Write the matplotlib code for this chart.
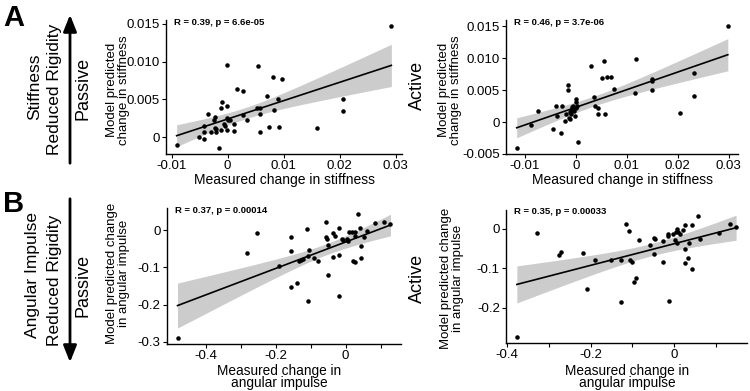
import numpy as np
import matplotlib
matplotlib.use('Agg')
import matplotlib.pyplot as plt
from matplotlib.patches import FancyArrowPatch

plt.rcParams['font.family'] = ['Liberation Sans', 'DejaVu Sans']

# Stiffness, passive
stiff_pas_meas = [-0.0091, -0.0051, -0.0042, -0.0043, -0.0042, -0.0035, -0.0030, -0.0024, -0.0023, -0.0023,
                  -0.0021, -0.0020, -0.0015, -0.0012, -0.0011, -0.0010, -0.0007, -0.0005, -0.0002, -0.0002,
                  -0.0002, -0.0001, 0.0001, 0.0004, 0.0011, 0.0011, 0.0017, 0.0027, 0.0028, 0.0035,
                  0.0053, 0.0055, 0.0057, 0.0057, 0.0058, 0.0070, 0.0074, 0.0080, 0.0083, 0.0089,
                  0.0092, 0.0097, 0.0160, 0.0206, 0.0206, 0.0292]
stiff_pas_pred = [-0.0011, 0.0000, -0.0002, 0.0006, 0.0014, 0.0031, 0.0007, 0.0023, 0.0026, 0.0012,
                  0.0007, 0.0010, -0.0015, 0.0039, 0.0009, 0.0047, 0.0017, 0.0014, 0.0095, 0.0041,
                  0.0025, 0.0009, 0.0023, 0.0022, 0.0017, 0.0008, 0.0064, 0.0061, 0.0029, 0.0023,
                  0.0039, 0.0094, 0.0039, 0.0030, 0.0007, 0.0054, 0.0013, 0.0080, 0.0036, 0.0050,
                  0.0013, 0.0077, 0.0012, 0.0050, 0.0035, 0.0147]

# Stiffness, active
stiff_act_meas = [-0.0116, -0.0087, -0.0075, -0.0045, -0.0038, -0.0036, -0.0030, -0.0027, -0.0021, -0.0019,
                  -0.0015, -0.0015, -0.0014, -0.0012, -0.0011, -0.0010, -0.0009, -0.0007, -0.0006, -0.0005,
                  -0.0003, -0.0001, 0.0000, 0.0001, 0.0001, 0.0003, 0.0005, 0.0029, 0.0035, 0.0037,
                  0.0044, 0.0044, 0.0051, 0.0055, 0.0058, 0.0061, 0.0068, 0.0074, 0.0116, 0.0117,
                  0.0149, 0.0149, 0.0150, 0.0205, 0.0231, 0.0231, 0.0298]
stiff_act_pred = [-0.0040, -0.0004, 0.0018, -0.0011, 0.0026, 0.0009, -0.0017, 0.0026, 0.0002, 0.0013,
                  0.0058, 0.0051, 0.0007, 0.0005, 0.0016, 0.0019, 0.0013, 0.0023, 0.0020, 0.0025,
                  0.0018, 0.0010, 0.0022, 0.0036, 0.0032, 0.0025, -0.0031, 0.0088, 0.0039, 0.0025,
                  0.0022, 0.0012, 0.0069, 0.0096, 0.0012, 0.0070, 0.0071, 0.0052, 0.0045, 0.0099,
                  0.0050, 0.0067, 0.0064, 0.0014, 0.0077, 0.0041, 0.0150]

# Angular impulse, passive
ang_pas_meas = [-0.480, -0.281, -0.252, -0.190, -0.157, -0.157, -0.157, -0.138, -0.132, -0.127,
                -0.122, -0.110, -0.108, -0.105, -0.108, -0.091, -0.079, -0.056, -0.055, -0.052,
                -0.049, -0.049, -0.036, -0.036, -0.030, -0.019, -0.018, -0.019, -0.011, -0.007,
                0.005, 0.008, 0.009, 0.017, 0.021, 0.026, 0.026, 0.028, 0.036, 0.042,
                0.045, 0.045, 0.052, 0.061, 0.083, 0.110, 0.128]
ang_pas_pred = [-0.289, -0.061, -0.007, -0.095, -0.019, -0.057, -0.152, -0.143, -0.082, -0.079,
                -0.077, 0.003, -0.191, -0.052, -0.070, -0.075, -0.082, 0.023, -0.017, -0.023,
                -0.039, -0.119, -0.006, -0.072, -0.015, 0.005, -0.067, -0.177, -0.023, -0.026,
                -0.023, -0.030, -0.005, -0.005, -0.082, -0.086, -0.004, -0.015, 0.043, 0.006,
                -0.041, -0.075, -0.018, -0.002, 0.019, 0.021, 0.016]

# Angular impulse, active
ang_act_meas = [-0.376, -0.327, -0.275, -0.271, -0.218, -0.209, -0.189, -0.150, -0.126, -0.126,
                -0.116, -0.109, -0.105, -0.100, -0.097, -0.092, -0.085, -0.057, -0.049, -0.045,
                -0.049, -0.027, -0.027, -0.016, -0.014, -0.012, -0.002, 0.002, 0.004, 0.006,
                0.006, 0.010, 0.014, 0.020, 0.025, 0.027, 0.027, 0.032, 0.035, 0.042,
                0.042, 0.056, 0.062, 0.108, 0.134, 0.148]
ang_act_pred = [-0.275, -0.010, -0.067, -0.060, -0.061, -0.154, -0.080, -0.078, -0.080, -0.187,
                0.013, -0.005, -0.080, -0.083, -0.136, -0.125, -0.029, -0.042, -0.024, -0.026,
                -0.064, -0.085, -0.030, -0.014, -0.019, -0.182, -0.014, -0.028, -0.009, -0.001,
                -0.036, -0.008, -0.014, -0.003, -0.052, 0.011, -0.087, -0.075, -0.035, 0.010,
                -0.103, 0.034, -0.025, -0.011, 0.012, 0.004]

W, H = 750, 391


def px(x, y):
    return x / W, 1 - y / H


def box(l, t, r, b):
    return [l / W, 1 - b / H, (r - l) / W, (b - t) / H]


def draw(ax, x, y, note, xlim, ylim, xticks, xlabels, yticks, ylabels, minor=None):
    x = np.array(x)
    y = np.array(y)
    n = len(x)
    b, a = np.polyfit(x, y, 1)
    res = y - (a + b * x)
    s = np.sqrt(np.sum(res ** 2) / (n - 2))
    xs = np.linspace(x.min(), x.max(), 100)
    fit = a + b * xs
    se = s * np.sqrt(1 / n + (xs - x.mean()) ** 2 / np.sum((x - x.mean()) ** 2))
    ax.fill_between(xs, fit - 2.01 * se, fit + 2.01 * se, color='#cccccc', lw=0, zorder=1)
    ax.plot(xs, fit, color='black', lw=1.2, zorder=2)
    ax.scatter(x, y, s=5, color='black', zorder=3)
    ax.set_xlim(xlim)
    ax.set_ylim(ylim)
    ax.set_xticks(xticks)
    ax.set_xticklabels(xlabels)
    ax.set_yticks(yticks)
    ax.set_yticklabels(ylabels)
    if minor is not None:
        ax.set_xticks(minor, minor=True)
    ax.tick_params(which='both', direction='out', length=3, width=0.8, labelsize=9.5, pad=1.5)
    for side in ['top', 'right']:
        ax.spines[side].set_visible(False)
    for side in ['left', 'bottom']:
        ax.spines[side].set_linewidth(1.0)
    ax.text(0.035, 0.985, note, transform=ax.transAxes, fontsize=6.8, fontweight='bold',
            va='center', ha='left')


fig = plt.figure(figsize=(7.5, 3.91), dpi=100)

ax1 = fig.add_axes(box(166, 20, 402, 154))
draw(ax1, stiff_pas_meas, stiff_pas_pred, 'R = 0.39, p = 6.6e-05',
     (-0.0110, 0.0311), (-0.00225, 0.0155),
     [-0.01, 0, 0.01, 0.02, 0.03], ['-0.01', '0', '0.01', '0.02', '0.03'],
     [0, 0.005, 0.010, 0.015], ['0', '0.005', '0.010', '0.015'])

ax2 = fig.add_axes(box(506, 20, 738, 154))
draw(ax2, stiff_act_meas, stiff_act_pred, 'R = 0.46, p = 3.7e-06',
     (-0.0137, 0.0318), (-0.0050, 0.0160),
     [-0.01, 0, 0.01, 0.02, 0.03], ['-0.01', '0', '0.01', '0.02', '0.03'],
     [-0.005, 0, 0.005, 0.010, 0.015], ['-0.005', '0', '0.005', '0.010', '0.015'])

ax3 = fig.add_axes(box(167, 208, 401, 344))
draw(ax3, ang_pas_meas, ang_pas_pred, 'R = 0.37, p = 0.00014',
     (-0.510, 0.158), (-0.306, 0.060),
     [-0.4, -0.2, 0], ['-0.4', '-0.2', '0'],
     [0, -0.1, -0.2, -0.3], ['0', '-0.1', '-0.2', '-0.3'],
     minor=[-0.3, -0.1, 0.1])

ax4 = fig.add_axes(box(506, 210, 747, 343))
draw(ax4, ang_act_meas, ang_act_pred, 'R = 0.35, p = 0.00033',
     (-0.402, 0.174), (-0.290, 0.048),
     [-0.4, -0.2, 0], ['-0.4', '-0.2', '0'],
     [0, -0.1, -0.2], ['0', '-0.1', '-0.2'],
     minor=[-0.3, -0.1, 0.1])

# axis labels
fig.text(*px(118, 90), 'Model predicted\nchange in stiffness', rotation=90, ha='center', va='center',
         fontsize=9.5, linespacing=0.95)
fig.text(*px(450, 90), 'Model predicted\nchange in stiffness', rotation=90, ha='center', va='center',
         fontsize=9.5, linespacing=0.95)
fig.text(*px(118, 273), 'Model predicted change\nin angular impulse', rotation=90, ha='center', va='center',
         fontsize=9.5, linespacing=0.95)
fig.text(*px(452, 278), 'Model predicted change\nin angular impulse', rotation=90, ha='center', va='center',
         fontsize=9.5, linespacing=0.95)
fig.text(*px(284, 180), 'Measured change in stiffness', ha='center', va='center', fontsize=10)
fig.text(*px(622, 180), 'Measured change in stiffness', ha='center', va='center', fontsize=10)
fig.text(*px(279, 377), 'Measured change in\nangular impulse', ha='center', va='center', fontsize=9.8,
         linespacing=0.88)
fig.text(*px(627, 377), 'Measured change in\nangular impulse', ha='center', va='center', fontsize=9.8,
         linespacing=0.88)

# row labels
fig.text(*px(83, 88), 'Passive', rotation=90, ha='center', va='center', fontsize=13)
fig.text(*px(417, 85), 'Active', rotation=90, ha='center', va='center', fontsize=13)
fig.text(*px(83, 285), 'Passive', rotation=90, ha='center', va='center', fontsize=13)
fig.text(*px(417, 278), 'Active', rotation=90, ha='center', va='center', fontsize=13)

fig.text(*px(35, 87), 'Stiffness', rotation=90, ha='center', va='center', fontsize=12.5)
fig.text(*px(55, 89), 'Reduced Rigidity', rotation=90, ha='center', va='center', fontsize=12.5)
fig.text(*px(33, 275), 'Angular Impulse', rotation=90, ha='center', va='center', fontsize=12.5)
fig.text(*px(55, 280), 'Reduced Rigidity', rotation=90, ha='center', va='center', fontsize=12.5)

fig.text(*px(3, 18), 'A', ha='left', va='center', fontsize=21, fontweight='bold')
fig.text(*px(3, 204), 'B', ha='left', va='center', fontsize=21, fontweight='bold')

# arrows
fig.add_artist(FancyArrowPatch(px(70, 166), px(70, 12), transform=fig.transFigure,
                               arrowstyle='-|>,head_length=0.5,head_width=0.2', mutation_scale=20,
                               lw=2.0, color='black'))
fig.add_artist(FancyArrowPatch(px(70, 196), px(70, 365), transform=fig.transFigure,
                               arrowstyle='-|>,head_length=0.5,head_width=0.2', mutation_scale=20,
                               lw=2.0, color='black'))

plt.savefig('out.png', dpi=100)
